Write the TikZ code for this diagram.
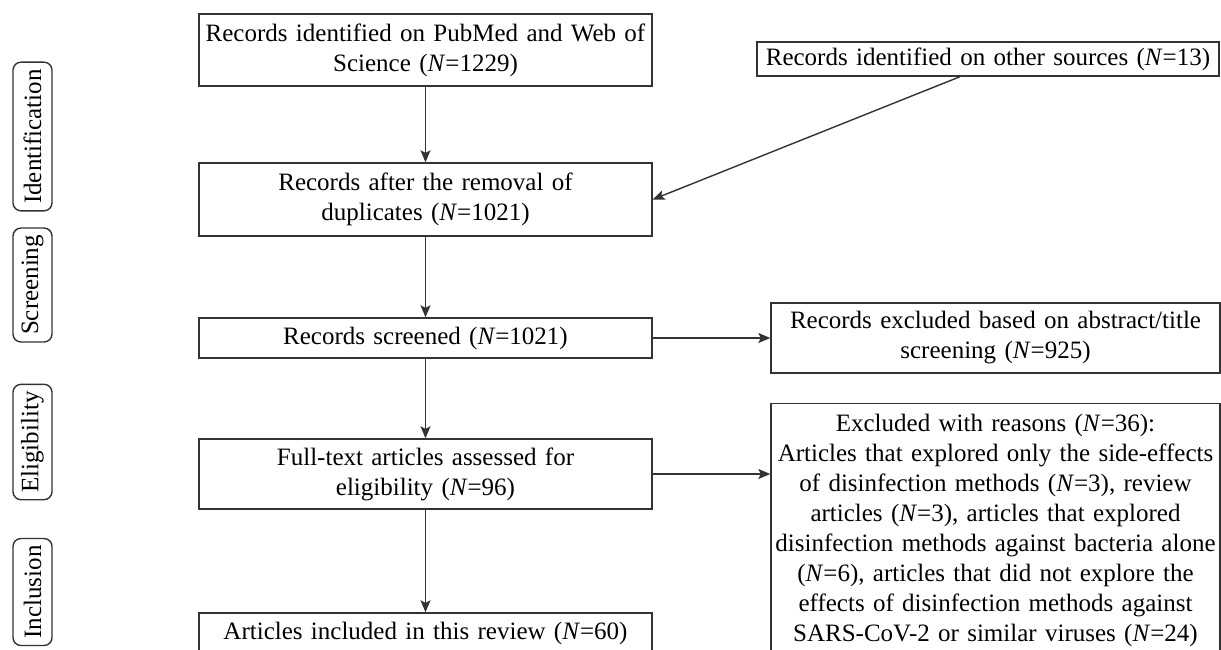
\documentclass[tikz,border=0pt]{standalone}
\usepackage{fontspec}
\setmainfont{Liberation Serif}
\usetikzlibrary{arrows.meta}
\tikzset{
  box/.style={draw=black!80, line width=0.7pt, align=center, inner xsep=0pt, inner ysep=2pt,
    minimum width=226.5pt, text width=222pt, font=\fontsize{12.5}{15}\selectfont},
  arr/.style={draw=black!80, line width=0.7pt, -{Stealth[length=6pt,width=5pt,inset=1.3pt]}},
  phase/.style={draw=black!80, line width=0.7pt, rotate=90, rounded corners=4pt,
    minimum height=19.5pt, inner xsep=3.5pt, inner ysep=0pt, font=\fontsize{12.5}{15}\selectfont}
}
\begin{document}
\begin{tikzpicture}[x=0.5pt,y=-0.5pt]
\useasboundingbox (0,0) rectangle (1221,649);
\clip (0,0) rectangle (1221,649);
\foreach \name/\txt/\yc in {ident/Identification/136.5, screen/Screening/285, elig/Eligibility/442, incl/Inclusion/592}
  \node[phase] (\name) at (32.5,\yc) {\txt};
\node[box, minimum height=36pt] (pubmed) at (425.5,50) {Records identified on PubMed and Web of\\Science (\textit{N}=1229)};
\node[box, minimum width=231pt, text width=228pt, minimum height=17pt] (other) at (988,59) {Records identified on other sources (\textit{N}=13)};
\node[box, minimum height=36.5pt] (dedup) at (425.5,199.5) {Records after the removal of\\duplicates (\textit{N}=1021)};
\node[box, minimum height=20pt] (screened) at (425.5,338) {Records screened (\textit{N}=1021)};
\node[box, minimum width=224.5pt, minimum height=35pt] (absexcl) at (995.5,338) {Records excluded based on abstract/title\\screening (\textit{N}=925)};
\node[box, minimum height=35pt] (fulltext) at (425.5,474) {Full-text articles assessed for\\eligibility (\textit{N}=96)};
\node[box, minimum width=224.5pt, anchor=north, inner ysep=5pt] (reasons) at (995.5,403) {Excluded with reasons (\textit{N}=36):\\Articles that explored only the side-effects\\of disinfection methods (\textit{N}=3), review\\articles (\textit{N}=3), articles that explored\\disinfection methods against bacteria alone\\(\textit{N}=6), articles that did not explore the\\effects of disinfection methods against\\SARS-CoV-2 or similar viruses (\textit{N}=24)};
\node[box, minimum height=20pt] (included) at (425.5,633) {Articles included in this review (\textit{N}=60)};
\draw[arr] (pubmed) -- (dedup);
\draw[arr] ([xshift=-14pt]other.south) -- (dedup.east);
\draw[arr] (dedup) -- (screened);
\draw[arr] (screened) -- (absexcl);
\draw[arr] (screened) -- (fulltext);
\draw[arr] (fulltext.east) -- (fulltext.east -| reasons.west);
\draw[arr] (fulltext) -- (included);
\end{tikzpicture}
\end{document}
